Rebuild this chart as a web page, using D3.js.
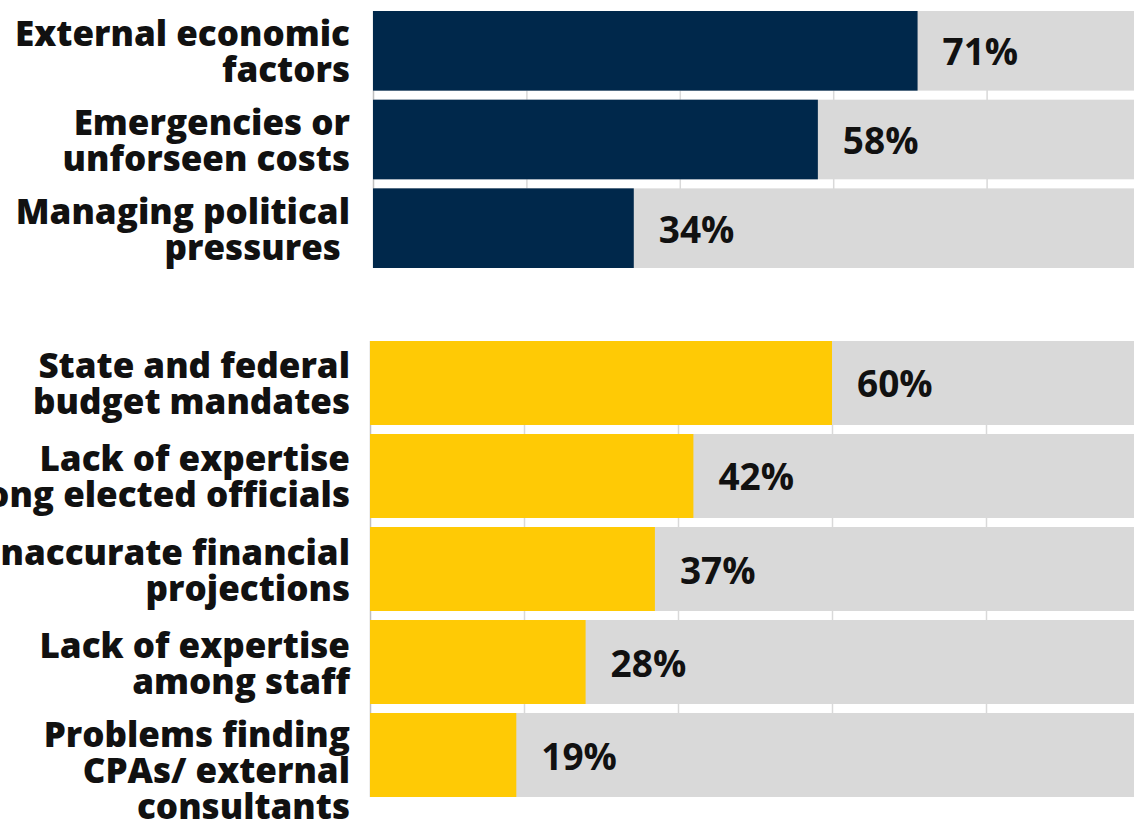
<!DOCTYPE html>
<html>
<head>
<meta charset="utf-8">
<script src="https://cdn.jsdelivr.net/npm/d3@7"></script>
<style>
  html, body { margin: 0; padding: 0; background: #fff; }
  svg { display: block; }
  text { font-family: "Open Sans", "Noto Sans", sans-serif; }
</style>
</head>
<body>
<svg id="chart" width="1134" height="822"></svg>
<script>
// ---- Data ----
const topCategories = [
  "External economic\nfactors",
  "Emergencies or\nunforseen costs",
  "Managing political\npressures "
];
const topValues = [0.71, 0.58, 0.34];

const bottomCategories = [
  "State and federal\nbudget mandates",
  "Lack of expertise\namong elected officials",
  "Inaccurate financial\nprojections",
  "Lack of expertise\namong staff",
  "Problems finding\nCPAs/ external\nconsultants"
];
const bottomValues = [0.60, 0.42, 0.37, 0.28, 0.19];

const gridTicks = [0, 0.2, 0.4, 0.6, 0.8, 1.0];

// ---- Drawing ----
const svg = d3.select("#chart");
const fmt = d3.format(".0%");

function panel(cfg) {
  const { categories, values, color, x0, x1, y0, y1, pad } = cfg;
  const x = d3.scaleLinear().domain([0, 1]).range([x0, x1]);
  const y = d3.scaleBand().domain(categories).range([y0, y1]).paddingInner(pad).paddingOuter(0);
  const g = svg.append("g");

  // gridlines
  const grid = d3.axisBottom(x).tickValues(gridTicks).tickSize(-(y1 - y0)).tickFormat("");
  g.append("g")
    .attr("transform", `translate(0,${y1})`)
    .call(grid)
    .call(s => s.select(".domain").remove())
    .call(s => s.selectAll(".tick line").attr("stroke", "#d9d9d9").attr("stroke-width", 1.5));
  g.selectAll(".tick").filter(d => d === 0).select("line").attr("stroke", "#bfbfbf");

  // background (100%) bars
  g.selectAll("rect.bg").data(categories).join("rect")
    .attr("class", "bg")
    .attr("x", x(0)).attr("y", d => y(d))
    .attr("width", x(1) - x(0)).attr("height", y.bandwidth())
    .attr("fill", "#d9d9d9");

  // value bars
  g.selectAll("rect.val").data(values).join("rect")
    .attr("class", "val")
    .attr("x", x(0)).attr("y", (d, i) => y(categories[i]))
    .attr("width", d => x(d) - x(0)).attr("height", y.bandwidth())
    .attr("fill", color);

  // value labels
  g.selectAll("text.val").data(values).join("text")
    .attr("class", "val")
    .attr("x", d => x(d) + 25)
    .attr("y", (d, i) => y(categories[i]) + y.bandwidth() / 2)
    .attr("dominant-baseline", "central")
    .attr("font-size", 37)
    .attr("font-weight", 700)
    .attr("fill", "#111")
    .text(d => fmt(d));

  // category labels
  const labels = g.selectAll("text.cat").data(categories).join("text")
    .attr("class", "cat")
    .attr("text-anchor", "end")
    .attr("font-size", 35)
    .attr("font-weight", 800)
    .attr("fill", "#111")
    .style("white-space", "pre")
    .attr("transform", d => {
      const n = d.split("\n").length;
      const c = y(d) + y.bandwidth() / 2;
      const first = c - 18 - (n - 2) * 4;
      return `translate(350,${first})`;
    });
  labels.each(function (d) {
    const t = d3.select(this);
    d.split("\n").forEach((line, i) => {
      t.append("tspan")
        .attr("x", 0)
        .attr("y", i * 36)
        .attr("dominant-baseline", "central")
        .text(line);
    });
  });
}

panel({ categories: topCategories, values: topValues, color: "#00284b",
        x0: 373, x1: 1140, y0: 11, y1: 268, pad: 0.102 });
panel({ categories: bottomCategories, values: bottomValues, color: "#ffca05",
        x0: 370, x1: 1140, y0: 341, y1: 797, pad: 0.097 });
</script>
</body>
</html>
